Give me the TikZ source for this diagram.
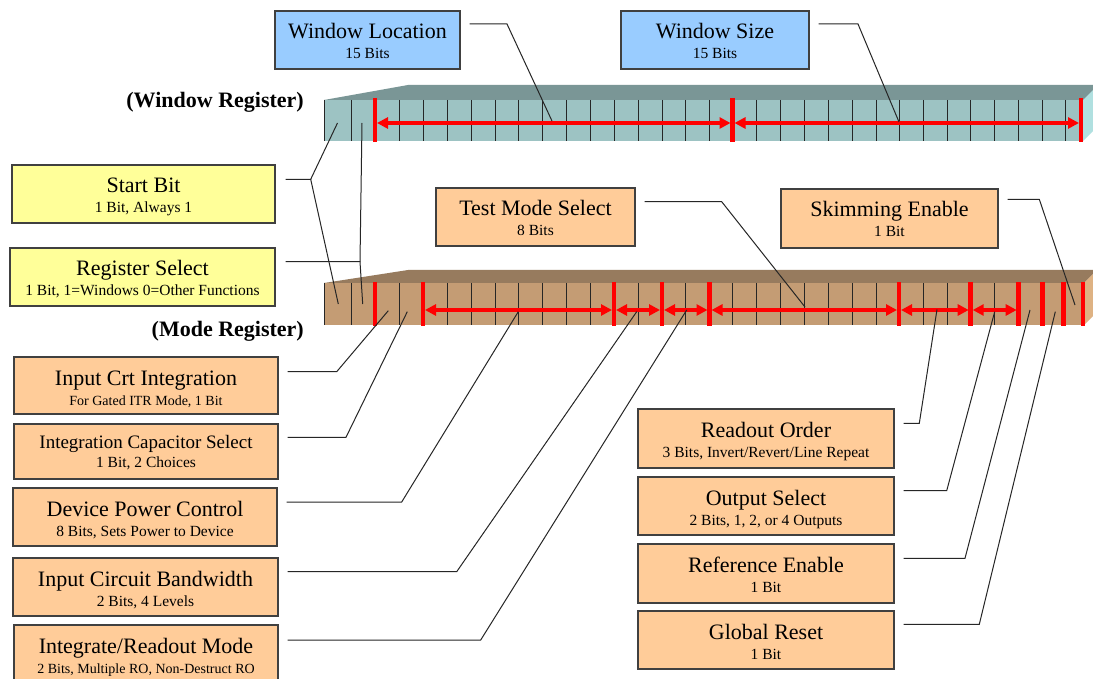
\documentclass[tikz,border=0pt]{standalone}
\usepackage{fontspec}
\setmainfont{Liberation Serif}
\usetikzlibrary{arrows.meta,calc}
\definecolor{bluefill}{HTML}{99CCFF}
\definecolor{yelfill}{HTML}{FFFF99}
\definecolor{orfill}{HTML}{FFCC99}
\definecolor{wtop}{HTML}{7A9696}
\definecolor{wfront}{HTML}{9DC3C3}
\definecolor{wside}{HTML}{B0E0E0}
\definecolor{mtop}{HTML}{977B5E}
\definecolor{mfront}{HTML}{C49C74}
\definecolor{mside}{HTML}{DEB283}
\definecolor{redbar}{HTML}{FF0000}
\newcommand\infobox[9]{%
  \node[box,#6,minimum width={#4-#2},minimum height={#5-#3}] (#1) at ({(#2+#4)/2},{(#3+#5)/2}) {};
  \node[ttl,anchor=base] (#1-t) at ({(#2+#4)/2},{#3+28}) {#7};
  \node[sub,anchor=base,#9] (#1-s) at ({(#2+#4)/2},{#3+48}) {#8};
}
\begin{document}
\begin{tikzpicture}[x=1pt,y=-1pt,
  box/.style={draw=black!75,line width=1.2pt,inner sep=0pt,rectangle},
  bluebox/.style={fill=bluefill},
  yelbox/.style={fill=yelfill},
  orbox/.style={fill=orfill},
  ttl/.style={font=\fontsize{22}{26}\selectfont,inner sep=0pt},
  sub/.style={font=\fontsize{15.5}{18}\selectfont,inner sep=0pt},
  smallsub/.style={font=\fontsize{14}{16}\selectfont},
  reglabel/.style={font=\bfseries\fontsize{22}{26}\selectfont,inner sep=0pt,anchor=base east},
  conn/.style={draw=black!85,line width=1pt},
  cell/.style={draw=black!85,line width=1pt},
  redline/.style={draw=redbar,line width=4.5pt},
  redarrow/.style={draw=redbar,line width=3.5pt,{Triangle[length=11pt,width=11pt]}-{Triangle[length=11pt,width=11pt]},shorten <=2pt,shorten >=2pt}
]
\clip (0,0) rectangle (1093,679);
\fill[white] (0,0) rectangle (1093,679);

% ---------- Window register ----------
\fill[wtop] (324,100) -- (408,85) -- (1100,85) -- (1085,100) -- cycle;
\fill[wfront] (324,100) rectangle (1083,141);
\fill[wside] (1083,100) -- (1098,85) -- (1098,126) -- (1083,141) -- cycle;
\foreach \x in {324,351.5,399,423,447,471,495,518.7,542.5,566.5,590,614,638,662,685.7,709.5,756.7,780.7,804.7,828.7,852,876,899,923,947,970.7,994.7,1018.7,1042.5,1065.7}
  \draw[cell] (\x,100) -- (\x,141);
\foreach \x in {375,732.5,1081}
  \draw[redline] (\x,98) -- (\x,142);
\draw[redarrow] (375,123) -- (732.5,123);
\draw[redarrow] (732.5,123) -- (1081,123);
\node[reglabel] (wreg) at (304,108) {(Window Register)};

% ---------- Mode register ----------
\fill[mtop] (324,283) -- (408,270) -- (1097,270) -- (1084,283) -- cycle;
\fill[mfront] (324,283) rectangle (1084,325);
\fill[mside] (1084,283) -- (1097,270) -- (1097,312) -- (1084,325) -- cycle;
\foreach \x in {324,351.5,399,447,471,495,518.7,542.5,566.5,590,638,685.7,732.5,756.7,780.7,804.7,828.7,852,876,923,947,994.7}
  \draw[cell] (\x,283) -- (\x,325);
\foreach \x in {375,423,614,662,709.5,899,970.7,1018.7,1042.5,1063.3,1083}
  \draw[redline] (\x,282) -- (\x,326);
\draw[redarrow] (423,310) -- (614,310);
\draw[redarrow] (614,310) -- (662,310);
\draw[redarrow] (662,310) -- (709.5,310);
\draw[redarrow] (709.5,310) -- (899,310);
\draw[redarrow] (899,310) -- (970.7,310);
\draw[redarrow] (970.7,310) -- (1018.7,310);
\node[reglabel] (mreg) at (304,337) {(Mode Register)};

% ---------- Boxes ----------
\infobox{wl}{275}{11}{460}{69}{bluebox}{Window Location}{15 Bits}{}
\infobox{wsz}{621}{11}{809}{69}{bluebox}{Window Size}{15 Bits}{}
\infobox{sb}{12}{165}{275}{223}{yelbox}{Start Bit}{1 Bit, Always 1}{}
\infobox{rs}{10}{248}{275}{306}{yelbox}{Register Select}{1 Bit, 1=Windows 0=Other Functions}{}
\infobox{tms}{436}{188}{635}{246}{orbox}{Test Mode Select}{8 Bits}{}
\infobox{se}{781}{189}{998}{248}{orbox}{Skimming Enable}{1 Bit}{}
\infobox{ro}{638}{409}{894}{468}{orbox}{Readout Order}{3 Bits, Invert/Revert/Line Repeat}{}
\infobox{os}{638}{477}{894}{535}{orbox}{Output Select}{2 Bits, 1, 2, or 4 Outputs}{}
\infobox{re}{638}{544}{894}{603}{orbox}{Reference Enable}{1 Bit}{}
\infobox{gr}{638}{611}{894}{669}{orbox}{Global Reset}{1 Bit}{}
\infobox{ici}{14}{357}{278}{414}{orbox}{Input Crt Integration}{For Gated ITR Mode, 1 Bit}{smallsub}
\node[box,orbox,minimum width=264,minimum height=55] (ics) at (146,451.5) {};
\node[ttl,anchor=base,font=\fontsize{19}{22}\selectfont] (ics-t) at (146,448) {Integration Capacitor Select};
\node[sub,anchor=base] (ics-s) at (146,467.5) {1 Bit, 2 Choices};
\infobox{dpc}{13}{488}{277}{546}{orbox}{Device Power Control}{8 Bits, Sets Power to Device}{}
\infobox{icb}{13}{558}{278}{616}{orbox}{Input Circuit Bandwidth}{2 Bits, 4 Levels}{}
\infobox{irm}{14}{625}{278}{690}{orbox}{Integrate/Readout Mode}{2 Bits, Multiple RO, Non-Destruct RO}{smallsub}

% ---------- Connectors ----------
\coordinate (wl-b) at (507,24);   \coordinate (wl-e) at (552,121);
\draw[conn] ($(wl.east |- wl-b)+(9,0)$) -- (wl-b) -- (wl-e);
\coordinate (wsz-b) at (858,24);  \coordinate (wsz-e) at (899,122);
\draw[conn] ($(wsz.east |- wsz-b)+(9,0)$) -- (wsz-b) -- (wsz-e);

\coordinate (sb-b) at (310.7,179.3); \coordinate (sb-e1) at (337.5,123); \coordinate (sb-e2) at (338.3,304);
\draw[conn] ($(sb.east |- sb-b)+(10,0)$) -- (sb-b) -- (sb-e1);
\draw[conn] (sb-b) -- (sb-e2);
\coordinate (rs-b) at (360,261.7); \coordinate (rs-e1) at (362,123); \coordinate (rs-e2) at (362.7,304);
\draw[conn] ($(rs.east |- rs-b)+(10,0)$) -- (rs-b) -- (rs-e1);
\draw[conn] (rs-b) -- (rs-e2);

\coordinate (tms-b) at (721.7,201.7); \coordinate (tms-e) at (805,307);
\draw[conn] ($(tms.east |- tms-b)+(9,0)$) -- (tms-b) -- (tms-e);
\coordinate (se-b) at (1039.3,199.3); \coordinate (se-e) at (1075,305);
\draw[conn] ($(se.east |- se-b)+(9,0)$) -- (se-b) -- (se-e);

\coordinate (ro-b) at (919.3,423.3); \coordinate (ro-e) at (937,309.5);
\draw[conn] ($(ro.east |- ro-b)+(9,0)$) -- (ro-b) -- (ro-e);
\coordinate (os-b) at (946.7,490.7); \coordinate (os-e) at (994.7,311.7);
\draw[conn] ($(os.east |- os-b)+(9,0)$) -- (os-b) -- (os-e);
\coordinate (re-b) at (965,558.3); \coordinate (re-e) at (1030,310);
\draw[conn] ($(re.east |- re-b)+(9,0)$) -- (re-b) -- (re-e);
\coordinate (gr-b) at (979.3,624.3); \coordinate (gr-e) at (1055.3,311.7);
\draw[conn] ($(gr.east |- gr-b)+(9,0)$) -- (gr-b) -- (gr-e);

\coordinate (ici-b) at (336.7,371.7); \coordinate (ici-e) at (388.3,310.7);
\draw[conn] ($(ici.east |- ici-b)+(9,0)$) -- (ici-b) -- (ici-e);
\coordinate (ics-b) at (346,437.3); \coordinate (ics-e) at (407.3,311.7);
\draw[conn] ($(ics.east |- ics-b)+(9,0)$) -- (ics-b) -- (ics-e);
\coordinate (dpc-b) at (401.7,502); \coordinate (dpc-e) at (518.3,311.7);
\draw[conn] ($(dpc.east |- dpc-b)+(9,0)$) -- (dpc-b) -- (dpc-e);
\coordinate (icb-b) at (456.7,571.7); \coordinate (icb-e) at (636.7,311.7);
\draw[conn] ($(icb.east |- icb-b)+(9,0)$) -- (icb-b) -- (icb-e);
\coordinate (irm-b) at (480.7,640); \coordinate (irm-e) at (686.7,310);
\draw[conn] ($(irm.east |- irm-b)+(9,0)$) -- (irm-b) -- (irm-e);
\end{tikzpicture}
\end{document}
